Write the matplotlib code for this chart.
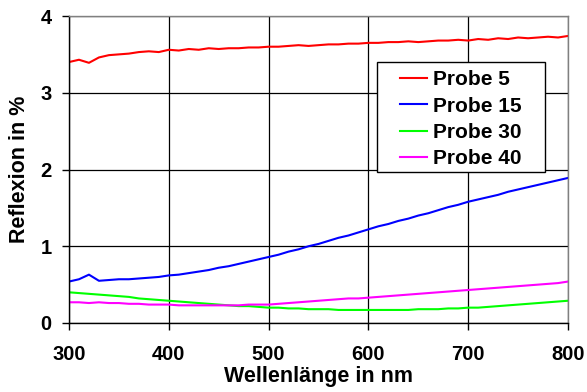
import matplotlib
matplotlib.use("Agg")
import matplotlib.pyplot as plt
from matplotlib.patches import Rectangle

plt.rcParams['font.family'] = ['Liberation Sans', 'DejaVu Sans']
plt.rcParams['font.weight'] = 'bold'

wavelength = list(range(300, 801, 10))

probe5 = [3.40, 3.43, 3.39, 3.46, 3.49, 3.50, 3.51, 3.53, 3.54, 3.53,
          3.56, 3.55, 3.57, 3.56, 3.58, 3.57, 3.58, 3.58, 3.59, 3.59,
          3.60, 3.60, 3.61, 3.62, 3.61, 3.62, 3.63, 3.63, 3.64, 3.64,
          3.65, 3.65, 3.66, 3.66, 3.67, 3.66, 3.67, 3.68, 3.68, 3.69,
          3.68, 3.70, 3.69, 3.71, 3.70, 3.72, 3.71, 3.72, 3.73, 3.72, 3.74]

probe15 = [0.54, 0.57, 0.63, 0.55, 0.56, 0.57, 0.57, 0.58, 0.59, 0.60,
           0.62, 0.63, 0.65, 0.67, 0.69, 0.72, 0.74, 0.77, 0.80, 0.83,
           0.86, 0.89, 0.93, 0.96, 1.00, 1.03, 1.07, 1.11, 1.14, 1.18,
           1.22, 1.26, 1.29, 1.33, 1.36, 1.40, 1.43, 1.47, 1.51, 1.54,
           1.58, 1.61, 1.64, 1.67, 1.71, 1.74, 1.77, 1.80, 1.83, 1.86, 1.89]

probe30 = [0.40, 0.39, 0.38, 0.37, 0.36, 0.35, 0.34, 0.32, 0.31, 0.30,
           0.29, 0.28, 0.27, 0.26, 0.25, 0.24, 0.23, 0.22, 0.22, 0.21,
           0.20, 0.20, 0.19, 0.19, 0.18, 0.18, 0.18, 0.17, 0.17, 0.17,
           0.17, 0.17, 0.17, 0.17, 0.17, 0.18, 0.18, 0.18, 0.19, 0.19,
           0.20, 0.20, 0.21, 0.22, 0.23, 0.24, 0.25, 0.26, 0.27, 0.28, 0.29]

probe40 = [0.27, 0.27, 0.26, 0.27, 0.26, 0.26, 0.25, 0.25, 0.24, 0.24,
           0.24, 0.23, 0.23, 0.23, 0.23, 0.23, 0.23, 0.23, 0.24, 0.24,
           0.24, 0.25, 0.26, 0.27, 0.28, 0.29, 0.30, 0.31, 0.32, 0.32,
           0.33, 0.34, 0.35, 0.36, 0.37, 0.38, 0.39, 0.40, 0.41, 0.42,
           0.43, 0.44, 0.45, 0.46, 0.47, 0.48, 0.49, 0.50, 0.51, 0.52, 0.54]

labels = ["Probe 5", "Probe 15", "Probe 30", "Probe 40"]
colors = ["#FF0000", "#0000FF", "#00FF00", "#FF00FF"]
x_ticks = [300, 400, 500, 600, 700, 800]
y_ticks = [0, 1, 2, 3, 4]

fig = plt.figure(figsize=(5.87, 3.92), dpi=100)
# axes: left x=69, right x=568, top y=16, bottom y=323
ax = fig.add_axes([69/587, (392-323)/392, 499/587, 307/392])

for series, lab, col in zip([probe5, probe15, probe30, probe40], labels, colors):
    ax.plot(wavelength, series, color=col, lw=1.5, label=lab)

ax.set_xlim(300, 800)
ax.set_ylim(0, 4)
ax.set_xticks(x_ticks)
ax.set_yticks(y_ticks)
ax.grid(True, color='black', lw=0.9)
ax.set_axisbelow(True)
ax.tick_params(direction='out', length=5, width=1, labelsize=14.5)
ax.tick_params(axis='x', pad=11)
ax.tick_params(axis='y', pad=7.5)
for s in ax.spines.values():
    s.set_linewidth(1)
ax.spines['top'].set_color('#808080')
ax.spines['right'].set_color('#808080')

ax.set_xlabel("Wellenlänge in nm", fontsize=15.5, fontweight='bold', labelpad=1.5)
ax.set_ylabel("Reflexion in %", fontsize=15.5, fontweight='bold', labelpad=7.5)

# legend frame (x 377-545, y 62-172 px)
ax.add_patch(Rectangle((308/499, (323-172)/307), 168/499, 110/307,
                       transform=ax.transAxes, facecolor='white',
                       edgecolor='black', lw=1, zorder=4))
leg = ax.legend(loc='upper left', bbox_to_anchor=((400-69)/499, (323-70)/307),
                fontsize=15, frameon=False,
                handlelength=1.3, handletextpad=0.3, labelspacing=0.36,
                borderpad=0, borderaxespad=0)
leg.set_zorder(5)
for t in leg.get_texts():
    t.set_fontweight('bold')

fig.savefig("out.png", dpi=100)
